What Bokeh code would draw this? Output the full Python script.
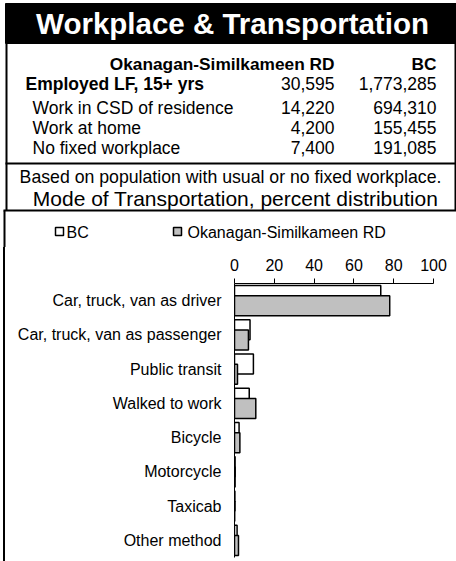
from bokeh.plotting import figure
from bokeh.models import Range1d, FactorRange, FixedTicker, ColumnDataSource
from bokeh.transform import dodge
from bokeh.embed import file_html
from bokeh.resources import INLINE
from bokeh.core.properties import value

FONT = "Liberation Sans"

# ---------------- data ----------------
title = "Workplace & Transportation"
region = "Okanagan-Similkameen RD"
province = "BC"
table_rows = ["Employed LF, 15+ yrs", "Work in CSD of residence", "Work at home", "No fixed workplace"]
region_vals = ["30,595", "14,220", "4,200", "7,400"]
bc_vals = ["1,773,285", "694,310", "155,455", "191,085"]
note = "Based on population with usual or no fixed workplace."
subtitle = "Mode of Transportation, percent distribution"

modes = ["Car, truck, van as driver", "Car, truck, van as passenger", "Public transit",
         "Walked to work", "Bicycle", "Motorcycle", "Taxicab", "Other method"]
bc_pct = [73.5, 7.8, 9.5, 7.4, 2.3, 0.3, 0.2, 1.3]
region_pct = [78.0, 7.0, 1.5, 10.7, 2.7, 0.3, 0.1, 2.0]
x_ticks = [0, 20, 40, 60, 80, 100]

BC_FILL = "white"
REG_FILL = "#c0c0c0"

# ---------------- top table + legend strip ----------------
top = figure(width=456, height=247, x_range=Range1d(0, 456), y_range=Range1d(247, 0),
             output_backend="svg", toolbar_location=None, min_border=0,
             x_axis_location=None, y_axis_location=None)
top.grid.visible = False
top.outline_line_color = None
top.background_fill_color = "white"

top.quad(left=[5], right=[456], top=[3], bottom=[43], color="black")
top.text(x=[232], y=[23], text=[title], text_font=value(FONT), text_font_style="bold",
         text_font_size="29.5px", text_color="white", text_align="center", text_baseline="middle")

top.text(x=[334, 436], y=[63, 63], text=[region, province], text_font=value(FONT),
         text_font_style="bold", text_font_size="17.3px", text_color="black",
         text_align="right", text_baseline="middle")

row_y = [83, 107, 127, 147]
row_x = [25, 32, 32, 32]
top.text(x=row_x[:1], y=row_y[:1], text=table_rows[:1], text_font=value(FONT),
         text_font_style="bold", text_font_size="17.5px", text_color="black",
         text_align="left", text_baseline="middle")
top.text(x=row_x[1:], y=row_y[1:], text=table_rows[1:], text_font=value(FONT),
         text_font_size="17.5px", text_color="black", text_align="left", text_baseline="middle")
top.text(x=[334] * 4, y=row_y, text=region_vals, text_font=value(FONT),
         text_font_size="17.5px", text_color="black", text_align="right", text_baseline="middle")
top.text(x=[436] * 4, y=row_y, text=bc_vals, text_font=value(FONT),
         text_font_size="17.5px", text_color="black", text_align="right", text_baseline="middle")

top.text(x=[230], y=[176], text=[note], text_font=value(FONT), text_font_size="17.7px",
         text_color="black", text_align="center", text_baseline="middle")
top.text(x=[235], y=[198], text=[subtitle], text_font=value(FONT), text_font_size="21px",
         text_color="black", text_align="center", text_baseline="middle")

top.segment(x0=[6, 455, 5, 3, 4], y0=[43, 43, 163, 210, 210],
            x1=[6, 455, 456, 456, 4], y1=[210, 210, 163, 210, 247],
            line_color="black", line_width=2)

# legend swatches and labels
top.quad(left=[55, 173], right=[63, 181], top=[227, 227], bottom=[235, 235],
         fill_color=[BC_FILL, REG_FILL], line_color="black", line_width=1.5)
top.text(x=[66, 187], y=[231.5, 231.5], text=[province, region], text_font=value(FONT),
         text_font_size="16px", text_color="black", text_align="left", text_baseline="middle")

# ---------------- chart ----------------
chart = figure(width=451, height=314, y_range=FactorRange(factors=modes[::-1]),
               x_range=Range1d(0, 100), x_axis_location="above",
               output_backend="svg", toolbar_location=None,
               min_border_left=229, min_border_right=23, min_border_top=36, min_border_bottom=4,
               styles={"border-left": "2px solid black", "margin-left": "3px"})
chart.grid.visible = False
chart.outline_line_color = None

src = ColumnDataSource(dict(mode=modes, bc=bc_pct, region=region_pct))
chart.hbar(y=dodge("mode", 0.15, range=chart.y_range), left=0, right="bc", height=0.59,
           source=src, fill_color=BC_FILL, line_color="black", line_width=1.5)
chart.hbar(y=dodge("mode", -0.15, range=chart.y_range), left=0, right="region", height=0.59,
           source=src, fill_color=REG_FILL, line_color="black", line_width=1.5)

xa = chart.xaxis[0]
xa.ticker = FixedTicker(ticks=x_ticks)
xa.major_tick_out = 5
xa.major_tick_in = 0
xa.minor_tick_out = 0
xa.minor_tick_in = 0
xa.axis_line_color = "black"
xa.major_tick_line_color = "black"
xa.major_label_text_font = FONT
xa.major_label_text_font_size = "16px"
xa.major_label_text_color = "black"
xa.major_label_standoff = 8

ya = chart.yaxis[0]
ya.major_tick_out = 0
ya.major_tick_in = 0
ya.axis_line_color = "black"
ya.major_label_text_font = FONT
ya.major_label_text_font_size = "16px"
ya.major_label_text_color = "black"
ya.major_label_standoff = 13

open("out.html", "w").write(file_html([top, chart], INLINE))
